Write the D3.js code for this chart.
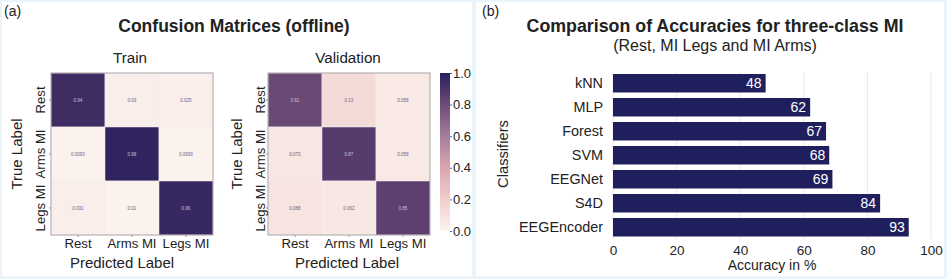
<!DOCTYPE html>
<html><head><meta charset="utf-8">
<script src="https://cdn.jsdelivr.net/npm/d3@7"></script>
<style>body{margin:0;background:#fff}svg{display:block;font-family:"Liberation Sans",Arial,sans-serif}</style>
</head><body><svg id="c" width="947" height="279"></svg>
<script>
const classes = ["Rest", "Arms MI", "Legs MI"];
const trainMatrix = [[0.94, 0.03, 0.025], [0.0093, 0.98, 0.0093], [0.031, 0.01, 0.96]];
const trainText = [["0.94", "0.03", "0.025"], ["0.0093", "0.98", "0.0093"], ["0.031", "0.01", "0.96"]];
const valMatrix = [[0.81, 0.13, 0.058], [0.073, 0.87, 0.058], [0.088, 0.062, 0.85]];
const valText = [["0.81", "0.13", "0.058"], ["0.073", "0.87", "0.058"], ["0.088", "0.062", "0.85"]];
const colorbarTicks = [0, 0.2, 0.4, 0.6, 0.8, 1.0];
const classifiers = ["kNN", "MLP", "Forest", "SVM", "EEGNet", "S4D", "EEGEncoder"];
const accuracies = [48, 62, 67, 68, 69, 84, 93];
const accTicks = [0, 20, 40, 60, 80, 100];

const FF = "Liberation Sans, Arial, sans-serif";
const svg = d3.select("#c");
svg.append("rect").attr("width",947).attr("height",279).attr("fill","#eaf4fb");
svg.append("rect").attr("x",2).attr("y",2).attr("width",470).attr("height",274).attr("fill","#fff");
svg.append("rect").attr("x",476).attr("y",2).attr("width",468).attr("height",274).attr("fill","#fff");

const cmap = d3.scaleLinear()
  .domain([0, 0.2, 0.4, 0.6, 0.8, 1.0])
  .range(["#fbf4ef", "#f1cdcb", "#d9a6b0", "#a67d9c", "#6e4b77", "#2a1f5b"])
  .interpolate(d3.interpolateRgb);

svg.append("text").attr("x",4).attr("y",16).attr("font-size",14).attr("fill","#222").text("(a)");
svg.append("text").attr("x",234).attr("y",32).attr("text-anchor","middle").attr("font-size",17.5).attr("font-weight","bold").attr("fill","#222").text("Confusion Matrices (offline)");

function heatmap(x0, title, mat, txt, titleX, xlabX, yTickOff, yLabOff) {
  const x = d3.scaleBand().domain(classes).range([x0, x0+162]);
  const y = d3.scaleBand().domain(classes).range([73, 235]);
  const g = svg.append("g");
  g.append("text").attr("x",titleX).attr("y",63).attr("text-anchor","middle").attr("font-size",15.2).attr("fill","#222").text(title);
  mat.forEach((row,i)=>row.forEach((v,j)=>{
    g.append("rect").attr("x",x(classes[j])).attr("y",y(classes[i])).attr("width",x.bandwidth()).attr("height",y.bandwidth())
      .attr("fill",cmap(v)).attr("stroke","#f4eeee").attr("stroke-width",0.5);
    g.append("text").attr("x",x(classes[j])+x.bandwidth()/2).attr("y",y(classes[i])+y.bandwidth()/2+1.5)
      .attr("text-anchor","middle").attr("font-size",4.5).attr("fill", v>0.5?"#c8c4d8":"#6a6088").text(txt[i][j]);
  }));
  g.append("rect").attr("x",x0).attr("y",73).attr("width",162).attr("height",162).attr("fill","none").attr("stroke","#a9a5aa").attr("stroke-width",1);
  const xa = g.append("g").attr("transform","translate(0,235)").call(d3.axisBottom(x).tickSize(2).tickPadding(2));
  xa.select(".domain").remove();
  xa.selectAll("text").attr("font-size",13.2).attr("fill","#222").attr("font-family",FF);
  xa.selectAll("line").attr("stroke","#999");
  const ya = g.append("g").attr("transform",`translate(${x0},0)`).call(d3.axisLeft(y).tickSize(2).tickPadding(0));
  ya.select(".domain").remove();
  ya.selectAll("line").attr("stroke","#999");
  ya.selectAll("text").attr("font-size",13.2).attr("fill","#222").attr("font-family",FF)
    .attr("text-anchor","middle").attr("x",0).attr("dy",0).attr("transform",`translate(${yTickOff},0) rotate(-90)`);
  g.append("text").attr("x",xlabX).attr("y",268).attr("text-anchor","middle").attr("font-size",15).attr("fill","#222").text("Predicted Label");
  g.append("text").attr("transform",`translate(${x0+yLabOff},154) rotate(-90)`).attr("text-anchor","middle").attr("font-size",15).attr("fill","#222").text("True Label");
}
heatmap(51, "Train", trainMatrix, trainText, 130, 122, -6, -29);
heatmap(268, "Validation", valMatrix, valText, 348, 347, -3, -26);

// colorbar
const cbY = d3.scaleLinear().domain([0,1]).range([231,73]);
const defs = svg.append("defs");
const grad = defs.append("linearGradient").attr("id","cb").attr("x1",0).attr("y1",1).attr("x2",0).attr("y2",0);
d3.range(0,1.0001,0.05).forEach(t=>grad.append("stop").attr("offset",t).attr("stop-color",cmap(t)));
svg.append("rect").attr("x",440).attr("y",73).attr("width",10).attr("height",158).attr("fill","url(#cb)");
const cba = svg.append("g").attr("transform","translate(450,0)").call(d3.axisRight(cbY).tickValues(colorbarTicks).tickFormat(d3.format(".1f")).tickSize(2).tickPadding(1));
cba.select(".domain").remove();
cba.selectAll("line").attr("stroke","#666");
cba.selectAll("text").attr("font-size",13).attr("fill","#222").attr("font-family",FF);

// panel b
svg.append("text").attr("x",482).attr("y",16).attr("font-size",14).attr("fill","#222").text("(b)");
svg.append("text").attr("x",715).attr("y",32).attr("text-anchor","middle").attr("font-size",17.8).attr("font-weight","bold").attr("fill","#222").text("Comparison of Accuracies for three-class MI");
svg.append("text").attr("x",715).attr("y",51).attr("text-anchor","middle").attr("font-size",16).attr("fill","#222").text("(Rest, MI Legs and MI Arms)");

const bx = d3.scaleLinear().domain([0,100]).range([613,931]);
const by = d3.scaleBand().domain(classifiers).range([71.6,238.9]).paddingInner(0.23).paddingOuter(0.1);
const bg = svg.append("g");
bg.selectAll(".grid").data(accTicks).join("line").attr("x1",d=>bx(d)).attr("x2",d=>bx(d)).attr("y1",72).attr("y2",239).attr("stroke","#e8e8e8").attr("stroke-width",1);
bg.selectAll(".bar").data(classifiers).join("rect").attr("x",bx(0)).attr("y",d=>by(d)).attr("width",(d,i)=>bx(accuracies[i])-bx(0)).attr("height",by.bandwidth()).attr("fill","#201f5e");
bg.selectAll(".val").data(classifiers).join("text").attr("x",(d,i)=>bx(accuracies[i])-4).attr("y",d=>by(d)+by.bandwidth()/2+5)
  .attr("text-anchor","end").attr("font-size",14).attr("fill","#fff").text((d,i)=>accuracies[i]);
const bxa = bg.append("g").attr("transform","translate(0,239)").call(d3.axisBottom(bx).tickValues(accTicks).tickSize(0).tickPadding(6));
bxa.select(".domain").remove();
bxa.selectAll("text").attr("font-size",13.5).attr("fill","#222").attr("font-family",FF);
const bya = bg.append("g").attr("transform","translate(613,0)").call(d3.axisLeft(by).tickSize(0).tickPadding(10));
bya.select(".domain").remove();
bya.selectAll("text").attr("font-size",14.4).attr("fill","#222").attr("font-family",FF);
bg.append("text").attr("x",bx(50)).attr("y",270).attr("text-anchor","middle").attr("font-size",14).attr("fill","#222").text("Accuracy in %");
bg.append("text").attr("transform","translate(508,154) rotate(-90)").attr("text-anchor","middle").attr("font-size",14.7).attr("fill","#222").text("Classifiers");
</script></body></html>
